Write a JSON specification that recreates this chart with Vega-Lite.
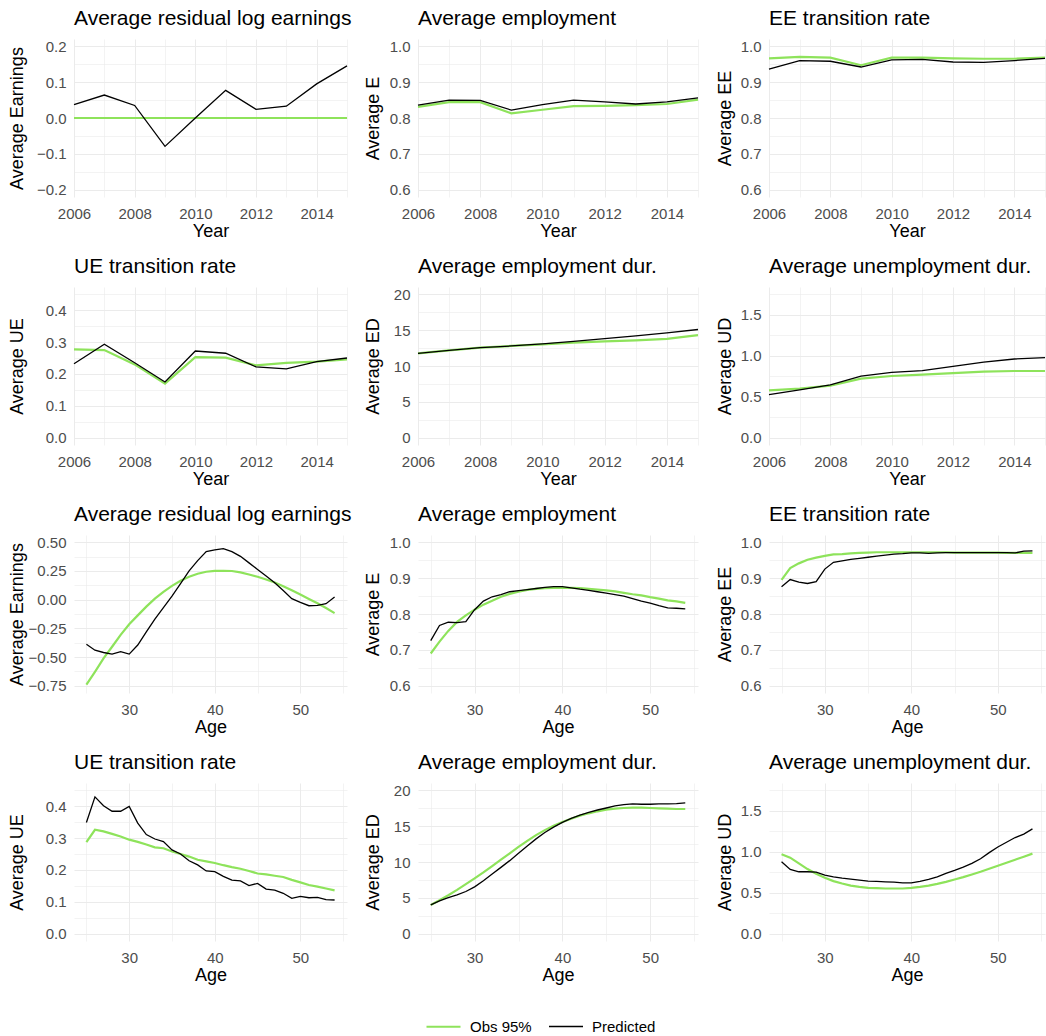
{
"$schema": "https://vega.github.io/schema/vega-lite/v6.json",
"background": "white",
"padding": {"left": 8, "top": 8, "right": 5, "bottom": 5},
"datasets": {"d": [
{"p":"a1","x":2006,"pred":0.037,"obs":0},{"p":"a1","x":2007,"pred":0.064,"obs":0},{"p":"a1","x":2008,"pred":0.035,"obs":0},{"p":"a1","x":2009,"pred":-0.079,"obs":0},{"p":"a1","x":2010,"pred":0.0,"obs":0},{"p":"a1","x":2011,"pred":0.077,"obs":0},{"p":"a1","x":2012,"pred":0.024,"obs":0},{"p":"a1","x":2013,"pred":0.033,"obs":0},{"p":"a1","x":2014,"pred":0.095,"obs":0},{"p":"a1","x":2015,"pred":0.145,"obs":0},
{"p":"a2","x":2006,"pred":0.836,"obs":0.831},{"p":"a2","x":2007,"pred":0.850,"obs":0.844},{"p":"a2","x":2008,"pred":0.849,"obs":0.844},{"p":"a2","x":2009,"pred":0.822,"obs":0.813},{"p":"a2","x":2010,"pred":0.837,"obs":0.823},{"p":"a2","x":2011,"pred":0.850,"obs":0.833},{"p":"a2","x":2012,"pred":0.845,"obs":0.834},{"p":"a2","x":2013,"pred":0.839,"obs":0.836},{"p":"a2","x":2014,"pred":0.845,"obs":0.839},{"p":"a2","x":2015,"pred":0.856,"obs":0.851},
{"p":"a3","x":2006,"pred":0.936,"obs":0.966},{"p":"a3","x":2007,"pred":0.960,"obs":0.970},{"p":"a3","x":2008,"pred":0.958,"obs":0.968},{"p":"a3","x":2009,"pred":0.942,"obs":0.947},{"p":"a3","x":2010,"pred":0.962,"obs":0.968},{"p":"a3","x":2011,"pred":0.963,"obs":0.968},{"p":"a3","x":2012,"pred":0.956,"obs":0.966},{"p":"a3","x":2013,"pred":0.955,"obs":0.965},{"p":"a3","x":2014,"pred":0.960,"obs":0.965},{"p":"a3","x":2015,"pred":0.966,"obs":0.968},
{"p":"a4","x":2006,"pred":0.232,"obs":0.277},{"p":"a4","x":2007,"pred":0.293,"obs":0.275},{"p":"a4","x":2008,"pred":0.235,"obs":0.230},{"p":"a4","x":2009,"pred":0.175,"obs":0.170},{"p":"a4","x":2010,"pred":0.272,"obs":0.253},{"p":"a4","x":2011,"pred":0.265,"obs":0.251},{"p":"a4","x":2012,"pred":0.222,"obs":0.227},{"p":"a4","x":2013,"pred":0.216,"obs":0.235},{"p":"a4","x":2014,"pred":0.239,"obs":0.239},{"p":"a4","x":2015,"pred":0.250,"obs":0.246},
{"p":"a5","x":2006,"pred":11.76,"obs":11.76},{"p":"a5","x":2007,"pred":12.18,"obs":12.18},{"p":"a5","x":2008,"pred":12.55,"obs":12.55},{"p":"a5","x":2009,"pred":12.79,"obs":12.79},{"p":"a5","x":2010,"pred":13.07,"obs":13.02},{"p":"a5","x":2011,"pred":13.44,"obs":13.26},{"p":"a5","x":2012,"pred":13.82,"obs":13.44},{"p":"a5","x":2013,"pred":14.19,"obs":13.58},{"p":"a5","x":2014,"pred":14.61,"obs":13.77},{"p":"a5","x":2015,"pred":15.08,"obs":14.29},
{"p":"a6","x":2006,"pred":0.526,"obs":0.579},{"p":"a6","x":2007,"pred":0.583,"obs":0.599},{"p":"a6","x":2008,"pred":0.644,"obs":0.636},{"p":"a6","x":2009,"pred":0.753,"obs":0.721},{"p":"a6","x":2010,"pred":0.798,"obs":0.753},{"p":"a6","x":2011,"pred":0.818,"obs":0.769},{"p":"a6","x":2012,"pred":0.870,"obs":0.789},{"p":"a6","x":2013,"pred":0.923,"obs":0.806},{"p":"a6","x":2014,"pred":0.960,"obs":0.814},{"p":"a6","x":2015,"pred":0.976,"obs":0.814},
{"p":"b1","x":25,"pred":-0.389,"obs":-0.74},{"p":"b1","x":26,"pred":-0.44,"obs":-0.628},{"p":"b1","x":27,"pred":-0.46,"obs":-0.512},{"p":"b1","x":28,"pred":-0.474,"obs":-0.41},{"p":"b1","x":29,"pred":-0.453,"obs":-0.307},{"p":"b1","x":30,"pred":-0.474,"obs":-0.215},{"p":"b1","x":31,"pred":-0.395,"obs":-0.137},{"p":"b1","x":32,"pred":-0.28,"obs":-0.061},{"p":"b1","x":33,"pred":-0.17,"obs":0.009},{"p":"b1","x":34,"pred":-0.07,"obs":0.067},{"p":"b1","x":35,"pred":0.03,"obs":0.12},{"p":"b1","x":36,"pred":0.14,"obs":0.164},{"p":"b1","x":37,"pred":0.25,"obs":0.199},{"p":"b1","x":38,"pred":0.34,"obs":0.225},{"p":"b1","x":39,"pred":0.418,"obs":0.243},{"p":"b1","x":40,"pred":0.433,"obs":0.251},{"p":"b1","x":41,"pred":0.444,"obs":0.251},{"p":"b1","x":42,"pred":0.418,"obs":0.249},{"p":"b1","x":43,"pred":0.377,"obs":0.237},{"p":"b1","x":44,"pred":0.32,"obs":0.219},{"p":"b1","x":45,"pred":0.263,"obs":0.199},{"p":"b1","x":46,"pred":0.205,"obs":0.175},{"p":"b1","x":47,"pred":0.146,"obs":0.149},{"p":"b1","x":48,"pred":0.079,"obs":0.117},{"p":"b1","x":49,"pred":0.009,"obs":0.082},{"p":"b1","x":50,"pred":-0.023,"obs":0.044},{"p":"b1","x":51,"pred":-0.053,"obs":0.006},{"p":"b1","x":52,"pred":-0.05,"obs":-0.032},{"p":"b1","x":53,"pred":-0.035,"obs":-0.073},{"p":"b1","x":54,"pred":0.023,"obs":-0.117},
{"p":"b2","x":25,"pred":0.726,"obs":0.690},{"p":"b2","x":26,"pred":0.768,"obs":0.723},{"p":"b2","x":27,"pred":0.777,"obs":0.753},{"p":"b2","x":28,"pred":0.776,"obs":0.778},{"p":"b2","x":29,"pred":0.779,"obs":0.796},{"p":"b2","x":30,"pred":0.812,"obs":0.812},{"p":"b2","x":31,"pred":0.836,"obs":0.826},{"p":"b2","x":32,"pred":0.848,"obs":0.837},{"p":"b2","x":33,"pred":0.854,"obs":0.848},{"p":"b2","x":34,"pred":0.862,"obs":0.856},{"p":"b2","x":35,"pred":0.865,"obs":0.862},{"p":"b2","x":36,"pred":0.868,"obs":0.867},{"p":"b2","x":37,"pred":0.871,"obs":0.870},{"p":"b2","x":38,"pred":0.874,"obs":0.872},{"p":"b2","x":39,"pred":0.876,"obs":0.873},{"p":"b2","x":40,"pred":0.876,"obs":0.873},{"p":"b2","x":41,"pred":0.873,"obs":0.873},{"p":"b2","x":42,"pred":0.869,"obs":0.872},{"p":"b2","x":43,"pred":0.866,"obs":0.870},{"p":"b2","x":44,"pred":0.862,"obs":0.868},{"p":"b2","x":45,"pred":0.858,"obs":0.866},{"p":"b2","x":46,"pred":0.854,"obs":0.863},{"p":"b2","x":47,"pred":0.850,"obs":0.859},{"p":"b2","x":48,"pred":0.843,"obs":0.855},{"p":"b2","x":49,"pred":0.836,"obs":0.852},{"p":"b2","x":50,"pred":0.830,"obs":0.847},{"p":"b2","x":51,"pred":0.823,"obs":0.843},{"p":"b2","x":52,"pred":0.817,"obs":0.838},{"p":"b2","x":53,"pred":0.816,"obs":0.835},{"p":"b2","x":54,"pred":0.814,"obs":0.831},
{"p":"b3","x":25,"pred":0.876,"obs":0.895},{"p":"b3","x":26,"pred":0.896,"obs":0.928},{"p":"b3","x":27,"pred":0.889,"obs":0.941},{"p":"b3","x":28,"pred":0.885,"obs":0.951},{"p":"b3","x":29,"pred":0.890,"obs":0.957},{"p":"b3","x":30,"pred":0.925,"obs":0.962},{"p":"b3","x":31,"pred":0.944,"obs":0.966},{"p":"b3","x":32,"pred":0.948,"obs":0.967},{"p":"b3","x":33,"pred":0.952,"obs":0.969},{"p":"b3","x":34,"pred":0.955,"obs":0.970},{"p":"b3","x":35,"pred":0.958,"obs":0.971},{"p":"b3","x":36,"pred":0.961,"obs":0.972},{"p":"b3","x":37,"pred":0.964,"obs":0.972},{"p":"b3","x":38,"pred":0.967,"obs":0.972},{"p":"b3","x":39,"pred":0.968,"obs":0.972},{"p":"b3","x":40,"pred":0.970,"obs":0.972},{"p":"b3","x":41,"pred":0.970,"obs":0.972},{"p":"b3","x":42,"pred":0.969,"obs":0.972},{"p":"b3","x":43,"pred":0.970,"obs":0.972},{"p":"b3","x":44,"pred":0.971,"obs":0.972},{"p":"b3","x":45,"pred":0.971,"obs":0.971},{"p":"b3","x":46,"pred":0.971,"obs":0.971},{"p":"b3","x":47,"pred":0.971,"obs":0.971},{"p":"b3","x":48,"pred":0.971,"obs":0.971},{"p":"b3","x":49,"pred":0.971,"obs":0.971},{"p":"b3","x":50,"pred":0.971,"obs":0.971},{"p":"b3","x":51,"pred":0.971,"obs":0.970},{"p":"b3","x":52,"pred":0.970,"obs":0.970},{"p":"b3","x":53,"pred":0.975,"obs":0.970},{"p":"b3","x":54,"pred":0.976,"obs":0.970},
{"p":"b4","x":25,"pred":0.349,"obs":0.287},{"p":"b4","x":26,"pred":0.429,"obs":0.326},{"p":"b4","x":27,"pred":0.401,"obs":0.321},{"p":"b4","x":28,"pred":0.384,"obs":0.313},{"p":"b4","x":29,"pred":0.384,"obs":0.305},{"p":"b4","x":30,"pred":0.399,"obs":0.295},{"p":"b4","x":31,"pred":0.347,"obs":0.288},{"p":"b4","x":32,"pred":0.311,"obs":0.280},{"p":"b4","x":33,"pred":0.297,"obs":0.271},{"p":"b4","x":34,"pred":0.289,"obs":0.268},{"p":"b4","x":35,"pred":0.263,"obs":0.258},{"p":"b4","x":36,"pred":0.250,"obs":0.250},{"p":"b4","x":37,"pred":0.229,"obs":0.242},{"p":"b4","x":38,"pred":0.216,"obs":0.232},{"p":"b4","x":39,"pred":0.197,"obs":0.227},{"p":"b4","x":40,"pred":0.195,"obs":0.222},{"p":"b4","x":41,"pred":0.180,"obs":0.215},{"p":"b4","x":42,"pred":0.168,"obs":0.209},{"p":"b4","x":43,"pred":0.166,"obs":0.204},{"p":"b4","x":44,"pred":0.151,"obs":0.197},{"p":"b4","x":45,"pred":0.158,"obs":0.189},{"p":"b4","x":46,"pred":0.140,"obs":0.186},{"p":"b4","x":47,"pred":0.137,"obs":0.182},{"p":"b4","x":48,"pred":0.127,"obs":0.178},{"p":"b4","x":49,"pred":0.111,"obs":0.169},{"p":"b4","x":50,"pred":0.117,"obs":0.161},{"p":"b4","x":51,"pred":0.113,"obs":0.153},{"p":"b4","x":52,"pred":0.114,"obs":0.148},{"p":"b4","x":53,"pred":0.107,"obs":0.142},{"p":"b4","x":54,"pred":0.106,"obs":0.136},
{"p":"b5","x":25,"pred":4.02,"obs":4.02},{"p":"b5","x":26,"pred":4.58,"obs":4.67},{"p":"b5","x":27,"pred":5.05,"obs":5.37},{"p":"b5","x":28,"pred":5.42,"obs":6.12},{"p":"b5","x":29,"pred":5.89,"obs":6.92},{"p":"b5","x":30,"pred":6.54,"obs":7.71},{"p":"b5","x":31,"pred":7.38,"obs":8.55},{"p":"b5","x":32,"pred":8.32,"obs":9.44},{"p":"b5","x":33,"pred":9.25,"obs":10.33},{"p":"b5","x":34,"pred":10.19,"obs":11.21},{"p":"b5","x":35,"pred":11.21,"obs":12.10},{"p":"b5","x":36,"pred":12.24,"obs":12.94},{"p":"b5","x":37,"pred":13.22,"obs":13.74},{"p":"b5","x":38,"pred":14.11,"obs":14.44},{"p":"b5","x":39,"pred":14.86,"obs":15.05},{"p":"b5","x":40,"pred":15.51,"obs":15.56},{"p":"b5","x":41,"pred":16.07,"obs":16.03},{"p":"b5","x":42,"pred":16.54,"obs":16.45},{"p":"b5","x":43,"pred":16.92,"obs":16.78},{"p":"b5","x":44,"pred":17.24,"obs":17.06},{"p":"b5","x":45,"pred":17.52,"obs":17.29},{"p":"b5","x":46,"pred":17.80,"obs":17.43},{"p":"b5","x":47,"pred":17.99,"obs":17.52},{"p":"b5","x":48,"pred":18.08,"obs":17.57},{"p":"b5","x":49,"pred":18.04,"obs":17.57},{"p":"b5","x":50,"pred":18.04,"obs":17.52},{"p":"b5","x":51,"pred":18.08,"obs":17.48},{"p":"b5","x":52,"pred":18.08,"obs":17.43},{"p":"b5","x":53,"pred":18.13,"obs":17.38},{"p":"b5","x":54,"pred":18.22,"obs":17.38},
{"p":"b6","x":25,"pred":0.879,"obs":0.969},{"p":"b6","x":26,"pred":0.785,"obs":0.928},{"p":"b6","x":27,"pred":0.756,"obs":0.858},{"p":"b6","x":28,"pred":0.756,"obs":0.789},{"p":"b6","x":29,"pred":0.752,"obs":0.731},{"p":"b6","x":30,"pred":0.715,"obs":0.682},{"p":"b6","x":31,"pred":0.695,"obs":0.642},{"p":"b6","x":32,"pred":0.678,"obs":0.613},{"p":"b6","x":33,"pred":0.666,"obs":0.588},{"p":"b6","x":34,"pred":0.654,"obs":0.572},{"p":"b6","x":35,"pred":0.642,"obs":0.560},{"p":"b6","x":36,"pred":0.638,"obs":0.556},{"p":"b6","x":37,"pred":0.633,"obs":0.552},{"p":"b6","x":38,"pred":0.629,"obs":0.552},{"p":"b6","x":39,"pred":0.621,"obs":0.552},{"p":"b6","x":40,"pred":0.621,"obs":0.560},{"p":"b6","x":41,"pred":0.638,"obs":0.572},{"p":"b6","x":42,"pred":0.662,"obs":0.588},{"p":"b6","x":43,"pred":0.695,"obs":0.609},{"p":"b6","x":44,"pred":0.736,"obs":0.633},{"p":"b6","x":45,"pred":0.772,"obs":0.662},{"p":"b6","x":46,"pred":0.813,"obs":0.691},{"p":"b6","x":47,"pred":0.858,"obs":0.723},{"p":"b6","x":48,"pred":0.915,"obs":0.756},{"p":"b6","x":49,"pred":0.989,"obs":0.793},{"p":"b6","x":50,"pred":1.058,"obs":0.830},{"p":"b6","x":51,"pred":1.116,"obs":0.866},{"p":"b6","x":52,"pred":1.173,"obs":0.903},{"p":"b6","x":53,"pred":1.214,"obs":0.940},{"p":"b6","x":54,"pred":1.279,"obs":0.977}
]},
"data": {"name": "d"},
"columns": 3,
"spacing": {"row": 90, "column": 71},
"bounds": "flush",
"align": "each",
"concat": [
{"width": 273, "height": 158, "title": "Average residual log earnings",
 "transform": [{"filter": "datum.p == 'a1'"}, {"fold": ["obs", "pred"], "as": ["s", "v"]}],
 "mark": {"type": "line"},
 "encoding": {
  "x": {"field": "x", "type": "quantitative", "scale": {"domain": [2006, 2015], "nice": false, "zero": false}, "axis": {"title": "Year", "values": [2006,2007,2008,2009,2010,2011,2012,2013,2014,2015], "format": "d", "labelExpr": "datum.value % 2 == 0 ? datum.label : ''", "gridWidth": {"condition": {"test": "datum.value % 2 == 0", "value": 1}, "value": 0.6}}},
  "y": {"field": "v", "type": "quantitative", "scale": {"domain": [-0.22, 0.22], "nice": false, "zero": false}, "axis": {"title": "Average Earnings", "values": [-0.2,-0.15,-0.1,-0.05,0,0.05,0.1,0.15,0.2], "format": ".1f", "labelExpr": "abs(datum.value*10 - round(datum.value*10)) < 0.001 ? datum.label : ''", "gridWidth": {"condition": {"test": "abs(datum.value*10 - round(datum.value*10)) < 0.001", "value": 1}, "value": 0.6}, "minExtent": 43, "maxExtent": 43}},
  "color": {"field": "s", "type": "nominal", "scale": {"domain": ["obs", "pred"], "range": ["#8EE35B", "#000000"]}, "legend": {"title": null, "orient": "none", "legendX": 351, "legendY": 969, "direction": "horizontal", "symbolType": "stroke", "symbolSize": 1156, "symbolStrokeWidth": 1.8, "labelFontSize": 15, "labelColor": "#000000", "columnPadding": 14, "labelOffset": 8, "labelExpr": "datum.label == 'obs' ? 'Obs 95%' : 'Predicted'"}},
  "strokeWidth": {"field": "s", "type": "ordinal", "scale": {"domain": ["obs", "pred"], "range": [2.2, 1.3]}, "legend": null}
 }},
{"width": 280, "height": 158, "title": "Average employment",
 "transform": [{"filter": "datum.p == 'a2'"}, {"fold": ["obs", "pred"], "as": ["s", "v"]}],
 "mark": {"type": "line"},
 "encoding": {
  "x": {"field": "x", "type": "quantitative", "scale": {"domain": [2006, 2015], "nice": false, "zero": false}, "axis": {"title": "Year", "values": [2006,2007,2008,2009,2010,2011,2012,2013,2014,2015], "format": "d", "labelExpr": "datum.value % 2 == 0 ? datum.label : ''", "gridWidth": {"condition": {"test": "datum.value % 2 == 0", "value": 1}, "value": 0.6}}},
  "y": {"field": "v", "type": "quantitative", "scale": {"domain": [0.58, 1.02], "nice": false, "zero": false}, "axis": {"title": "Average E", "values": [0.6,0.65,0.7,0.75,0.8,0.85,0.9,0.95,1.0], "format": ".1f", "labelExpr": "abs(datum.value*10 - round(datum.value*10)) < 0.001 ? datum.label : ''", "gridWidth": {"condition": {"test": "abs(datum.value*10 - round(datum.value*10)) < 0.001", "value": 1}, "value": 0.6}, "minExtent": 31, "maxExtent": 31}},
  "color": {"field": "s", "type": "nominal"},
  "strokeWidth": {"field": "s", "type": "ordinal", "legend": null}
 }},
{"width": 276, "height": 158, "title": "EE transition rate",
 "transform": [{"filter": "datum.p == 'a3'"}, {"fold": ["obs", "pred"], "as": ["s", "v"]}],
 "mark": {"type": "line"},
 "encoding": {
  "x": {"field": "x", "type": "quantitative", "scale": {"domain": [2006, 2015], "nice": false, "zero": false}, "axis": {"title": "Year", "values": [2006,2007,2008,2009,2010,2011,2012,2013,2014,2015], "format": "d", "labelExpr": "datum.value % 2 == 0 ? datum.label : ''", "gridWidth": {"condition": {"test": "datum.value % 2 == 0", "value": 1}, "value": 0.6}}},
  "y": {"field": "v", "type": "quantitative", "scale": {"domain": [0.58, 1.02], "nice": false, "zero": false}, "axis": {"title": "Average EE", "values": [0.6,0.65,0.7,0.75,0.8,0.85,0.9,0.95,1.0], "format": ".1f", "labelExpr": "abs(datum.value*10 - round(datum.value*10)) < 0.001 ? datum.label : ''", "gridWidth": {"condition": {"test": "abs(datum.value*10 - round(datum.value*10)) < 0.001", "value": 1}, "value": 0.6}, "minExtent": 30, "maxExtent": 30}},
  "color": {"field": "s", "type": "nominal"},
  "strokeWidth": {"field": "s", "type": "ordinal", "legend": null}
 }},
{"width": 273, "height": 158, "title": "UE transition rate",
 "transform": [{"filter": "datum.p == 'a4'"}, {"fold": ["obs", "pred"], "as": ["s", "v"]}],
 "mark": {"type": "line"},
 "encoding": {
  "x": {"field": "x", "type": "quantitative", "scale": {"domain": [2006, 2015], "nice": false, "zero": false}, "axis": {"title": "Year", "values": [2006,2007,2008,2009,2010,2011,2012,2013,2014,2015], "format": "d", "labelExpr": "datum.value % 2 == 0 ? datum.label : ''", "gridWidth": {"condition": {"test": "datum.value % 2 == 0", "value": 1}, "value": 0.6}}},
  "y": {"field": "v", "type": "quantitative", "scale": {"domain": [-0.0225, 0.4725], "nice": false, "zero": false}, "axis": {"title": "Average UE", "values": [0,0.05,0.1,0.15,0.2,0.25,0.3,0.35,0.4,0.45], "format": ".1f", "labelExpr": "abs(datum.value*10 - round(datum.value*10)) < 0.001 ? datum.label : ''", "gridWidth": {"condition": {"test": "abs(datum.value*10 - round(datum.value*10)) < 0.001", "value": 1}, "value": 0.6}, "minExtent": 43, "maxExtent": 43}},
  "color": {"field": "s", "type": "nominal"},
  "strokeWidth": {"field": "s", "type": "ordinal", "legend": null}
 }},
{"width": 280, "height": 158, "title": "Average employment dur.",
 "transform": [{"filter": "datum.p == 'a5'"}, {"fold": ["obs", "pred"], "as": ["s", "v"]}],
 "mark": {"type": "line"},
 "encoding": {
  "x": {"field": "x", "type": "quantitative", "scale": {"domain": [2006, 2015], "nice": false, "zero": false}, "axis": {"title": "Year", "values": [2006,2007,2008,2009,2010,2011,2012,2013,2014,2015], "format": "d", "labelExpr": "datum.value % 2 == 0 ? datum.label : ''", "gridWidth": {"condition": {"test": "datum.value % 2 == 0", "value": 1}, "value": 0.6}}},
  "y": {"field": "v", "type": "quantitative", "scale": {"domain": [-1, 21], "nice": false, "zero": false}, "axis": {"title": "Average ED", "values": [0,2.5,5,7.5,10,12.5,15,17.5,20], "format": ".0f", "labelExpr": "abs(datum.value*0.2 - round(datum.value*0.2)) < 0.001 ? datum.label : ''", "gridWidth": {"condition": {"test": "abs(datum.value*0.2 - round(datum.value*0.2)) < 0.001", "value": 1}, "value": 0.6}, "minExtent": 31, "maxExtent": 31}},
  "color": {"field": "s", "type": "nominal"},
  "strokeWidth": {"field": "s", "type": "ordinal", "legend": null}
 }},
{"width": 276, "height": 158, "title": "Average unemployment dur.",
 "transform": [{"filter": "datum.p == 'a6'"}, {"fold": ["obs", "pred"], "as": ["s", "v"]}],
 "mark": {"type": "line"},
 "encoding": {
  "x": {"field": "x", "type": "quantitative", "scale": {"domain": [2006, 2015], "nice": false, "zero": false}, "axis": {"title": "Year", "values": [2006,2007,2008,2009,2010,2011,2012,2013,2014,2015], "format": "d", "labelExpr": "datum.value % 2 == 0 ? datum.label : ''", "gridWidth": {"condition": {"test": "datum.value % 2 == 0", "value": 1}, "value": 0.6}}},
  "y": {"field": "v", "type": "quantitative", "scale": {"domain": [-0.0875, 1.8375], "nice": false, "zero": false}, "axis": {"title": "Average UD", "values": [0,0.25,0.5,0.75,1,1.25,1.5,1.75], "format": ".1f", "labelExpr": "abs(datum.value*2 - round(datum.value*2)) < 0.001 ? datum.label : ''", "gridWidth": {"condition": {"test": "abs(datum.value*2 - round(datum.value*2)) < 0.001", "value": 1}, "value": 0.6}, "minExtent": 30, "maxExtent": 30}},
  "color": {"field": "s", "type": "nominal"},
  "strokeWidth": {"field": "s", "type": "ordinal", "legend": null}
 }},
{"width": 273, "height": 158, "title": "Average residual log earnings",
 "transform": [{"filter": "datum.p == 'b1'"}, {"fold": ["obs", "pred"], "as": ["s", "v"]}],
 "mark": {"type": "line"},
 "encoding": {
  "x": {"field": "x", "type": "quantitative", "scale": {"domain": [23.55, 55.45], "nice": false, "zero": false}, "axis": {"title": "Age", "values": [25,30,35,40,45,50,55], "format": "d", "labelExpr": "datum.value % 10 == 0 ? datum.label : ''", "gridWidth": {"condition": {"test": "datum.value % 10 == 0", "value": 1}, "value": 0.6}}},
  "y": {"field": "v", "type": "quantitative", "scale": {"domain": [-0.8125, 0.5625], "nice": false, "zero": false}, "axis": {"title": "Average Earnings", "values": [-0.75,-0.625,-0.5,-0.375,-0.25,-0.125,0,0.125,0.25,0.375,0.5], "format": ".2f", "labelExpr": "abs(datum.value*4 - round(datum.value*4)) < 0.001 ? datum.label : ''", "gridWidth": {"condition": {"test": "abs(datum.value*4 - round(datum.value*4)) < 0.001", "value": 1}, "value": 0.6}, "minExtent": 43, "maxExtent": 43}},
  "color": {"field": "s", "type": "nominal"},
  "strokeWidth": {"field": "s", "type": "ordinal", "legend": null}
 }},
{"width": 280, "height": 158, "title": "Average employment",
 "transform": [{"filter": "datum.p == 'b2'"}, {"fold": ["obs", "pred"], "as": ["s", "v"]}],
 "mark": {"type": "line"},
 "encoding": {
  "x": {"field": "x", "type": "quantitative", "scale": {"domain": [23.55, 55.45], "nice": false, "zero": false}, "axis": {"title": "Age", "values": [25,30,35,40,45,50,55], "format": "d", "labelExpr": "datum.value % 10 == 0 ? datum.label : ''", "gridWidth": {"condition": {"test": "datum.value % 10 == 0", "value": 1}, "value": 0.6}}},
  "y": {"field": "v", "type": "quantitative", "scale": {"domain": [0.58, 1.02], "nice": false, "zero": false}, "axis": {"title": "Average E", "values": [0.6,0.65,0.7,0.75,0.8,0.85,0.9,0.95,1.0], "format": ".1f", "labelExpr": "abs(datum.value*10 - round(datum.value*10)) < 0.001 ? datum.label : ''", "gridWidth": {"condition": {"test": "abs(datum.value*10 - round(datum.value*10)) < 0.001", "value": 1}, "value": 0.6}, "minExtent": 31, "maxExtent": 31}},
  "color": {"field": "s", "type": "nominal"},
  "strokeWidth": {"field": "s", "type": "ordinal", "legend": null}
 }},
{"width": 276, "height": 158, "title": "EE transition rate",
 "transform": [{"filter": "datum.p == 'b3'"}, {"fold": ["obs", "pred"], "as": ["s", "v"]}],
 "mark": {"type": "line"},
 "encoding": {
  "x": {"field": "x", "type": "quantitative", "scale": {"domain": [23.55, 55.45], "nice": false, "zero": false}, "axis": {"title": "Age", "values": [25,30,35,40,45,50,55], "format": "d", "labelExpr": "datum.value % 10 == 0 ? datum.label : ''", "gridWidth": {"condition": {"test": "datum.value % 10 == 0", "value": 1}, "value": 0.6}}},
  "y": {"field": "v", "type": "quantitative", "scale": {"domain": [0.58, 1.02], "nice": false, "zero": false}, "axis": {"title": "Average EE", "values": [0.6,0.65,0.7,0.75,0.8,0.85,0.9,0.95,1.0], "format": ".1f", "labelExpr": "abs(datum.value*10 - round(datum.value*10)) < 0.001 ? datum.label : ''", "gridWidth": {"condition": {"test": "abs(datum.value*10 - round(datum.value*10)) < 0.001", "value": 1}, "value": 0.6}, "minExtent": 30, "maxExtent": 30}},
  "color": {"field": "s", "type": "nominal"},
  "strokeWidth": {"field": "s", "type": "ordinal", "legend": null}
 }},
{"width": 273, "height": 158, "title": "UE transition rate",
 "transform": [{"filter": "datum.p == 'b4'"}, {"fold": ["obs", "pred"], "as": ["s", "v"]}],
 "mark": {"type": "line"},
 "encoding": {
  "x": {"field": "x", "type": "quantitative", "scale": {"domain": [23.55, 55.45], "nice": false, "zero": false}, "axis": {"title": "Age", "values": [25,30,35,40,45,50,55], "format": "d", "labelExpr": "datum.value % 10 == 0 ? datum.label : ''", "gridWidth": {"condition": {"test": "datum.value % 10 == 0", "value": 1}, "value": 0.6}}},
  "y": {"field": "v", "type": "quantitative", "scale": {"domain": [-0.0225, 0.4725], "nice": false, "zero": false}, "axis": {"title": "Average UE", "values": [0,0.05,0.1,0.15,0.2,0.25,0.3,0.35,0.4,0.45], "format": ".1f", "labelExpr": "abs(datum.value*10 - round(datum.value*10)) < 0.001 ? datum.label : ''", "gridWidth": {"condition": {"test": "abs(datum.value*10 - round(datum.value*10)) < 0.001", "value": 1}, "value": 0.6}, "minExtent": 43, "maxExtent": 43}},
  "color": {"field": "s", "type": "nominal"},
  "strokeWidth": {"field": "s", "type": "ordinal", "legend": null}
 }},
{"width": 280, "height": 158, "title": "Average employment dur.",
 "transform": [{"filter": "datum.p == 'b5'"}, {"fold": ["obs", "pred"], "as": ["s", "v"]}],
 "mark": {"type": "line"},
 "encoding": {
  "x": {"field": "x", "type": "quantitative", "scale": {"domain": [23.55, 55.45], "nice": false, "zero": false}, "axis": {"title": "Age", "values": [25,30,35,40,45,50,55], "format": "d", "labelExpr": "datum.value % 10 == 0 ? datum.label : ''", "gridWidth": {"condition": {"test": "datum.value % 10 == 0", "value": 1}, "value": 0.6}}},
  "y": {"field": "v", "type": "quantitative", "scale": {"domain": [-1, 21], "nice": false, "zero": false}, "axis": {"title": "Average ED", "values": [0,2.5,5,7.5,10,12.5,15,17.5,20], "format": ".0f", "labelExpr": "abs(datum.value*0.2 - round(datum.value*0.2)) < 0.001 ? datum.label : ''", "gridWidth": {"condition": {"test": "abs(datum.value*0.2 - round(datum.value*0.2)) < 0.001", "value": 1}, "value": 0.6}, "minExtent": 31, "maxExtent": 31}},
  "color": {"field": "s", "type": "nominal"},
  "strokeWidth": {"field": "s", "type": "ordinal", "legend": null}
 }},
{"width": 276, "height": 158, "title": "Average unemployment dur.",
 "transform": [{"filter": "datum.p == 'b6'"}, {"fold": ["obs", "pred"], "as": ["s", "v"]}],
 "mark": {"type": "line"},
 "encoding": {
  "x": {"field": "x", "type": "quantitative", "scale": {"domain": [23.55, 55.45], "nice": false, "zero": false}, "axis": {"title": "Age", "values": [25,30,35,40,45,50,55], "format": "d", "labelExpr": "datum.value % 10 == 0 ? datum.label : ''", "gridWidth": {"condition": {"test": "datum.value % 10 == 0", "value": 1}, "value": 0.6}}},
  "y": {"field": "v", "type": "quantitative", "scale": {"domain": [-0.0875, 1.8375], "nice": false, "zero": false}, "axis": {"title": "Average UD", "values": [0,0.25,0.5,0.75,1,1.25,1.5,1.75], "format": ".1f", "labelExpr": "abs(datum.value*2 - round(datum.value*2)) < 0.001 ? datum.label : ''", "gridWidth": {"condition": {"test": "abs(datum.value*2 - round(datum.value*2)) < 0.001", "value": 1}, "value": 0.6}, "minExtent": 30, "maxExtent": 30}},
  "color": {"field": "s", "type": "nominal"},
  "strokeWidth": {"field": "s", "type": "ordinal", "legend": null}
 }}
],
"config": {
 "view": {"stroke": null},
 "font": "Liberation Sans",
 "axis": {"domain": false, "ticks": false, "labelFontSize": 15, "labelColor": "#4D4D4D", "labelFont": "Liberation Sans", "titleFont": "Liberation Sans", "titleFontSize": 18, "titleFontWeight": "normal", "titleColor": "#000000", "gridColor": "#EBEBEB", "labelFlush": false, "labelOverlap": false, "labelBound": false},
 "axisX": {"labelPadding": 9, "minExtent": 25, "maxExtent": 25, "titlePadding": 0},
 "axisY": {"labelPadding": 8, "titlePadding": 5},
 "title": {"fontSize": 21, "fontWeight": "normal", "anchor": "start", "frame": "group", "offset": 10, "baseline": "alphabetic", "color": "#000000", "font": "Liberation Sans"},
 "legend": {"labelFont": "Liberation Sans"}
}
}
